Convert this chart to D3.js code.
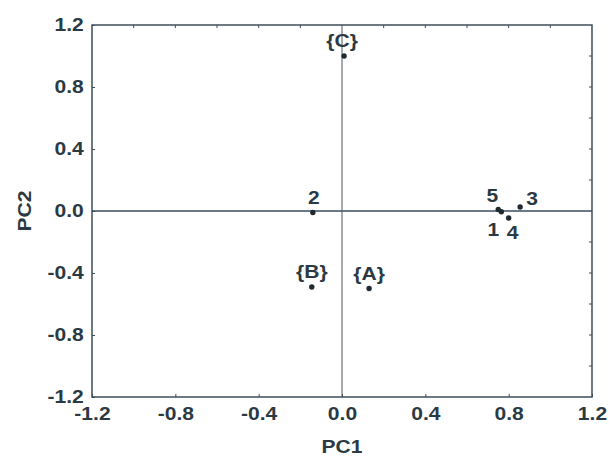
<!DOCTYPE html>
<html>
<head>
<meta charset="utf-8">
<script src="https://cdn.jsdelivr.net/npm/d3@7"></script>
<style>
  html, body { margin: 0; padding: 0; background: #ffffff; }
  svg text { font-family: "Liberation Sans", Arial, sans-serif; font-weight: bold; fill: #2b3a42; }
</style>
</head>
<body>
<div id="chart"></div>
<script>
// data
const labels = ['{C}', '2', '{B}', '{A}', '5', '1', '4', '3'];
const pc1 = [0.01, -0.14, -0.145, 0.13, 0.75, 0.765, 0.80, 0.855];
const pc2 = [1.00, -0.01, -0.49, -0.50, 0.01, -0.005, -0.045, 0.026];
// label offsets (dx, dy) relative to each point
const labelDx = [-2, 1, 0, 0, -6, -8, 4, 12];
const labelDy = [-15, -15, -15, -15, -14, 18, 15, -8];

const majorTicks = [-1.2, -0.8, -0.4, 0.0, 0.4, 0.8, 1.2];
const minorTicks = [-1.0, -0.8, -0.6, -0.4, -0.2, 0.2, 0.4, 0.6, 0.8, 1.0];

const width = 610, height = 462;
const margin = { top: 25, right: 18, bottom: 65, left: 92 };
const lineColor = '#3f4d58';
const stretch = 'scale(1.17,1)'; // the scanned text is wider than Arial

const svg = d3.select('#chart').append('svg')
  .attr('width', width)
  .attr('height', height);

const x = d3.scaleLinear().domain([-1.2, 1.2]).range([margin.left, width - margin.right]);
const y = d3.scaleLinear().domain([-1.2, 1.2]).range([height - margin.bottom, margin.top]);

const fmt = d => d.toFixed(1);

// bottom axis (labels + small inward ticks)
const xAxis = svg.append('g')
  .attr('transform', `translate(0,${y(-1.2)})`)
  .call(d3.axisBottom(x).tickValues(majorTicks).tickFormat(fmt).tickSize(-3).tickPadding(8));
// left axis
const yAxis = svg.append('g')
  .attr('transform', `translate(${x(-1.2)},0)`)
  .call(d3.axisLeft(y).tickValues(majorTicks).tickFormat(fmt).tickSize(-3).tickPadding(7));

[xAxis, yAxis].forEach(g => {
  g.select('.domain').remove();
  g.selectAll('.tick line').attr('stroke', lineColor);
  g.selectAll('.tick text')
    .style('font-size', '18px')
    .attr('fill', '#2b3a42')
    .attr('transform', stretch);
});
xAxis.selectAll('.tick text').attr('dy', '0.85em');

// top and right minor ticks
svg.append('g')
  .selectAll('line')
  .data(minorTicks)
  .join('line')
  .attr('x1', d => x(d)).attr('x2', d => x(d))
  .attr('y1', y(1.2)).attr('y2', y(1.2) + 3)
  .attr('stroke', lineColor);
svg.append('g')
  .selectAll('line')
  .data(minorTicks)
  .join('line')
  .attr('x1', x(1.2)).attr('x2', x(1.2) - 3)
  .attr('y1', d => y(d)).attr('y2', d => y(d))
  .attr('stroke', lineColor);

// frame
svg.append('rect')
  .attr('x', x(-1.2))
  .attr('y', y(1.2))
  .attr('width', x(1.2) - x(-1.2))
  .attr('height', y(-1.2) - y(1.2))
  .attr('fill', 'none')
  .attr('stroke', lineColor)
  .attr('stroke-width', 1.5);

// zero lines
svg.append('line')
  .attr('x1', x(-1.2)).attr('x2', x(1.2))
  .attr('y1', y(0)).attr('y2', y(0))
  .attr('stroke', '#3a4c5e')
  .attr('stroke-width', 1.4);
svg.append('line')
  .attr('x1', x(0)).attr('x2', x(0))
  .attr('y1', y(-1.2)).attr('y2', y(1.2))
  .attr('stroke', '#4a5662')
  .attr('stroke-width', 1);

// points
const idx = d3.range(labels.length);
svg.append('g')
  .selectAll('circle')
  .data(idx)
  .join('circle')
  .attr('cx', i => x(pc1[i]))
  .attr('cy', i => y(pc2[i]))
  .attr('r', 2.7)
  .attr('fill', '#1f2a30');

svg.append('g')
  .selectAll('text')
  .data(idx)
  .join('text')
  .attr('transform', i => `translate(${x(pc1[i]) + labelDx[i]},${y(pc2[i]) + labelDy[i]}) ${stretch}`)
  .attr('text-anchor', 'middle')
  .attr('dy', '0.36em')
  .style('font-size', '18px')
  .text(i => labels[i]);

// axis titles
svg.append('text')
  .attr('transform', `translate(${x(0)},447) ${stretch}`)
  .attr('text-anchor', 'middle')
  .attr('dy', '0.36em')
  .style('font-size', '18px')
  .text('PC1');

svg.append('text')
  .attr('transform', `translate(25,${y(0)}) rotate(-90) ${stretch}`)
  .attr('text-anchor', 'middle')
  .attr('dy', '0.36em')
  .style('font-size', '18px')
  .text('PC2');
</script>
</body>
</html>
